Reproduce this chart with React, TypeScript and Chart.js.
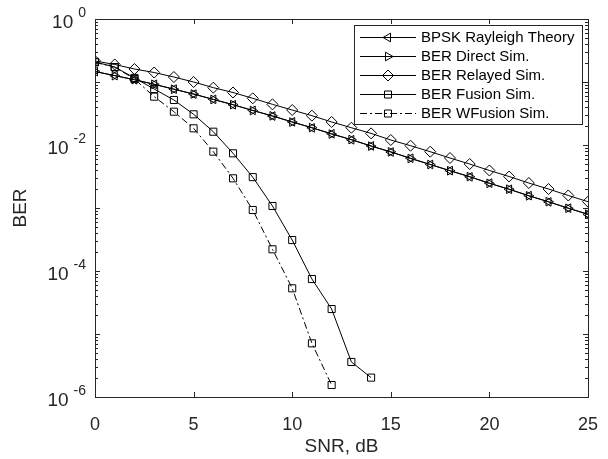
import React, { useEffect, useRef } from 'react';
import { Chart, registerables } from 'chart.js';

Chart.register(...registerables);

// ---- data ----
const snr = [0, 1, 2, 3, 4, 5, 6, 7, 8, 9, 10, 11, 12, 13, 14, 15, 16, 17, 18, 19, 20, 21, 22, 23, 24, 25];
const theory = [0.1464, 0.1267, 0.1085, 0.0919, 0.0771, 0.0642, 0.053, 0.0435, 0.0355, 0.0288, 0.0233, 0.0187, 0.0151, 0.0121, 0.00967, 0.00773, 0.00617, 0.00491, 0.00392, 0.00312, 0.00248, 0.00198, 0.00157, 0.00125, 0.000995, 0.00079];
const direct = [0.147, 0.126, 0.109, 0.092, 0.0768, 0.0645, 0.0528, 0.0437, 0.0352, 0.029, 0.0231, 0.0189, 0.0149, 0.0122, 0.0096, 0.0078, 0.0061, 0.0049, 0.0039, 0.00315, 0.00246, 0.00199, 0.00156, 0.00126, 0.00099, 0.0008];
const relayed = [0.2155, 0.1897, 0.1607, 0.1415, 0.12, 0.1, 0.0813, 0.0681, 0.0551, 0.0442, 0.0359, 0.0292, 0.0232, 0.0188, 0.0153, 0.012, 0.00975, 0.00783, 0.00622, 0.00499, 0.00394, 0.00316, 0.00249, 0.002, 0.00158, 0.00126];
const fusionSnr = [0, 1, 2, 3, 4, 5, 6, 7, 8, 9, 10, 11, 12, 13, 14];
const fusion = [0.208, 0.173, 0.116, 0.0774, 0.0518, 0.0307, 0.01626, 0.00738, 0.00309, 0.001076, 0.00031, 7.46e-5, 2.49e-5, 3.6e-6, 2.03e-6];
const wfusionSnr = [0, 1, 2, 3, 4, 5, 6, 7, 8, 9, 10, 11, 12];
const wfusion = [0.205, 0.172, 0.112, 0.0585, 0.0338, 0.0184, 0.00784, 0.00296, 0.000929, 0.000221, 5.31e-5, 7.11e-6, 1.55e-6];

const xTicks = [0, 5, 10, 15, 20, 25];
const yLabelExponents = [0, -2, -4, -6];
const yDecades = [0, -1, -2, -3, -4, -5, -6];
const legendLabels = ['BPSK Rayleigh Theory', 'BER Direct Sim.', 'BER Relayed Sim.', 'BER Fusion Sim.', 'BER WFusion Sim.'];
const markerKinds = ['triLeft', 'triRight', 'diamond', 'square', 'square'];
const dashes: number[][] = [[], [], [], [], [7, 3, 2, 3]];

const FONT = '"Liberation Sans", Arial, Helvetica, sans-serif';
const AX = '#262626';

function drawMarker(ctx: CanvasRenderingContext2D, kind: string, cx: number, cy: number) {
  ctx.beginPath();
  if (kind === 'triLeft') {
    const r = 5;
    ctx.moveTo(cx - r, cy);
    ctx.lineTo(cx + r / 2, cy - r * 0.866);
    ctx.lineTo(cx + r / 2, cy + r * 0.866);
    ctx.closePath();
  } else if (kind === 'triRight') {
    const r = 5;
    ctx.moveTo(cx + r, cy);
    ctx.lineTo(cx - r / 2, cy - r * 0.866);
    ctx.lineTo(cx - r / 2, cy + r * 0.866);
    ctx.closePath();
  } else if (kind === 'diamond') {
    const r = 5.5;
    ctx.moveTo(cx, cy - r);
    ctx.lineTo(cx + r, cy);
    ctx.lineTo(cx, cy + r);
    ctx.lineTo(cx - r, cy);
    ctx.closePath();
  } else {
    const s = 3.5;
    ctx.rect(cx - s, cy - s, 2 * s, 2 * s);
  }
  ctx.stroke();
}

const axesPlugin = {
  id: 'matlabAxes',
  afterDraw(chart: any) {
    const ctx: CanvasRenderingContext2D = chart.ctx;
    const { left, right, top, bottom } = chart.chartArea;
    const xs = chart.scales.x;
    const ys = chart.scales.y;
    ctx.save();
    ctx.strokeStyle = AX;
    ctx.lineWidth = 1;
    ctx.setLineDash([]);
    // box
    ctx.strokeRect(Math.round(left) + 0.5, Math.round(top) + 0.5, Math.round(right - left), Math.round(bottom - top));
    // x ticks
    ctx.beginPath();
    xTicks.forEach((v) => {
      const px = Math.round(xs.getPixelForValue(v)) + 0.5;
      ctx.moveTo(px, bottom);
      ctx.lineTo(px, bottom - 5);
      ctx.moveTo(px, top);
      ctx.lineTo(px, top + 5);
    });
    // y ticks
    yDecades.forEach((e) => {
      const py = Math.round(ys.getPixelForValue(Math.pow(10, e))) + 0.5;
      ctx.moveTo(left, py);
      ctx.lineTo(left + 5, py);
      ctx.moveTo(right, py);
      ctx.lineTo(right - 5, py);
      if (e > -6) {
        for (let k = 2; k <= 9; k++) {
          const pm = Math.round(ys.getPixelForValue(k * Math.pow(10, e - 1))) + 0.5;
          ctx.moveTo(left, pm);
          ctx.lineTo(left + 3, pm);
          ctx.moveTo(right, pm);
          ctx.lineTo(right - 3, pm);
        }
      }
    });
    ctx.stroke();

    // x tick labels
    ctx.fillStyle = AX;
    ctx.font = `18px ${FONT}`;
    ctx.textAlign = 'center';
    ctx.textBaseline = 'middle';
    xTicks.forEach((v) => {
      ctx.fillText(String(v), xs.getPixelForValue(v), 425);
    });
    // y tick labels with superscript
    yLabelExponents.forEach((e) => {
      const py = ys.getPixelForValue(Math.pow(10, e));
      const expStr = e === 0 ? '0' : '-' + String(-e);
      ctx.font = `14px ${FONT}`;
      const ew = ctx.measureText(expStr).width;
      const rightEdge = 86;
      ctx.textAlign = 'left';
      ctx.fillText(expStr, rightEdge - ew, py - 6);
      ctx.font = `19px ${FONT}`;
      ctx.textAlign = 'right';
      ctx.fillText('10', rightEdge - ew - 5, py + 4);
    });
    // axis titles
    ctx.font = `19px ${FONT}`;
    ctx.textAlign = 'center';
    ctx.fillText('SNR, dB', (left + right) / 2, 447);
    ctx.save();
    ctx.translate(21, (top + bottom) / 2);
    ctx.rotate(-Math.PI / 2);
    ctx.fillText('BER', 0, 0);
    ctx.restore();

    // legend
    const lx0 = 354, ly0 = 25, lx1 = 582, ly1 = 124;
    ctx.fillStyle = '#ffffff';
    ctx.fillRect(lx0, ly0, lx1 - lx0, ly1 - ly0);
    ctx.strokeStyle = AX;
    ctx.strokeRect(lx0 + 0.5, ly0 + 0.5, lx1 - lx0, ly1 - ly0);
    ctx.font = `15px ${FONT}`;
    ctx.textAlign = 'left';
    ctx.textBaseline = 'middle';
    legendLabels.forEach((lab, i) => {
      const cy = 37 + 19 * i;
      ctx.strokeStyle = '#000';
      ctx.setLineDash(dashes[i]);
      ctx.beginPath();
      ctx.moveTo(360, cy + 0.5);
      ctx.lineTo(416, cy + 0.5);
      ctx.stroke();
      ctx.setLineDash([]);
      ctx.fillStyle = '#ffffff';
      drawMarker(ctx, markerKinds[i], 388, cy + 0.5);
      ctx.fillStyle = '#000';
      ctx.fillText(lab, 421, cy + 1);
    });
    ctx.restore();
  },
};

function pts(xsArr: number[], ysArr: number[]) {
  return xsArr.map((x, i) => ({ x, y: ysArr[i] }));
}

export default function App() {
  const ref = useRef<HTMLCanvasElement | null>(null);
  useEffect(() => {
    if (!ref.current) return;
    const base = {
      showLine: true,
      borderColor: '#000',
      borderWidth: 1,
      pointBorderColor: '#000',
      pointBackgroundColor: 'rgba(0,0,0,0)',
      pointBorderWidth: 1,
      fill: false,
      tension: 0,
    };
    const chart = new Chart(ref.current, {
      type: 'scatter',
      data: {
        datasets: [
          { ...base, label: legendLabels[0], data: pts(snr, theory), pointStyle: 'triangle', rotation: 270, pointRadius: 5 },
          { ...base, label: legendLabels[1], data: pts(snr, direct), pointStyle: 'triangle', rotation: 90, pointRadius: 5 },
          { ...base, label: legendLabels[2], data: pts(snr, relayed), pointStyle: 'rectRot', pointRadius: 5.5 },
          { ...base, label: legendLabels[3], data: pts(fusionSnr, fusion), pointStyle: 'rect', pointRadius: 5 },
          { ...base, label: legendLabels[4], data: pts(wfusionSnr, wfusion), pointStyle: 'rect', pointRadius: 5, borderDash: [7, 3, 2, 3] },
        ] as any,
      },
      options: {
        animation: false,
        responsive: false,
        layout: { padding: { left: 0, top: 19, right: 20, bottom: 0 } },
        plugins: { legend: { display: false }, tooltip: { enabled: false } },
        scales: {
          x: {
            type: 'linear',
            min: 0,
            max: 25,
            grid: { display: false },
            border: { display: false },
            ticks: { display: false },
            afterFit: (s: any) => { s.height = 62; },
          },
          y: {
            type: 'logarithmic',
            min: 1e-6,
            max: 1,
            grid: { display: false },
            border: { display: false },
            ticks: { display: false },
            afterFit: (s: any) => { s.width = 95; },
          },
        },
      } as any,
      plugins: [axesPlugin],
    });
    return () => chart.destroy();
  }, []);
  return (
    <div style={{ position: 'absolute', left: 0, top: 0, width: 608, height: 459, background: '#fff' }}>
      <canvas ref={ref} width={608} height={459} style={{ width: 608, height: 459 }} />
    </div>
  );
}
